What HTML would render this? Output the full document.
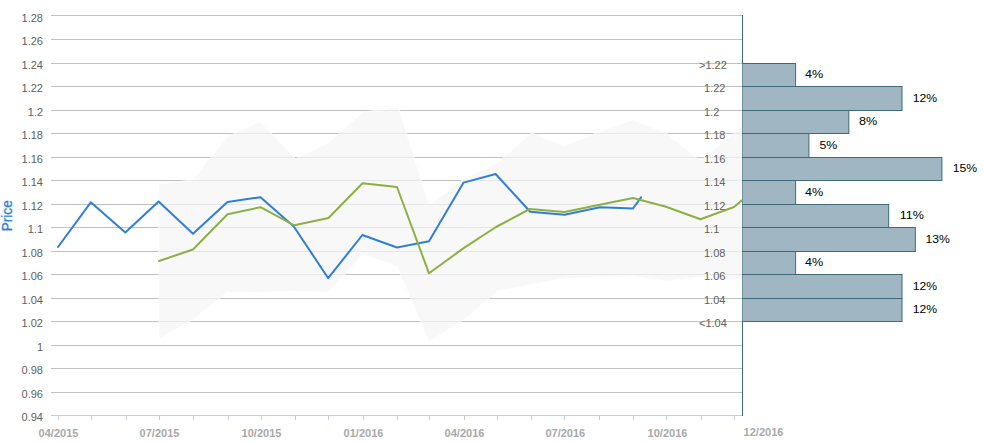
<!DOCTYPE html><html><head><meta charset="utf-8"><style>html,body{margin:0;padding:0;background:#fff;overflow:hidden}</style></head><body><svg width="985" height="443" viewBox="0 0 985 443" style="display:block;font-family:'Liberation Sans',sans-serif">
<rect width="985" height="443" fill="#fff"/>
<defs><clipPath id="pc"><rect x="51" y="0" width="691" height="443"/></clipPath></defs>
<rect x="51" y="15" width="691" height="1" fill="#c0c0c0"/>
<rect x="51" y="39" width="691" height="1" fill="#c0c0c0"/>
<rect x="51" y="63" width="691" height="1" fill="#c0c0c0"/>
<rect x="51" y="86" width="691" height="1" fill="#c0c0c0"/>
<rect x="51" y="110" width="691" height="1" fill="#c0c0c0"/>
<rect x="51" y="133" width="691" height="1" fill="#c0c0c0"/>
<rect x="51" y="157" width="691" height="1" fill="#c0c0c0"/>
<rect x="51" y="180" width="691" height="1" fill="#c0c0c0"/>
<rect x="51" y="204" width="691" height="1" fill="#c0c0c0"/>
<rect x="51" y="227" width="691" height="1" fill="#c0c0c0"/>
<rect x="51" y="251" width="691" height="1" fill="#c0c0c0"/>
<rect x="51" y="274" width="691" height="1" fill="#c0c0c0"/>
<rect x="51" y="298" width="691" height="1" fill="#c0c0c0"/>
<rect x="51" y="321" width="691" height="1" fill="#c0c0c0"/>
<rect x="51" y="345" width="691" height="1" fill="#c0c0c0"/>
<rect x="51" y="368" width="691" height="1" fill="#c0c0c0"/>
<rect x="51" y="392" width="691" height="1" fill="#c0c0c0"/>
<rect x="51" y="415" width="691" height="1" fill="#c0c0c0"/>
<g clip-path="url(#pc)"><polygon points="159,184 193,179.7 227.5,136.5 260.5,121.8 295.5,158.7 328.5,143 363,112 398.7,107.8 429,205.5 464,178.5 497,163.3 531.5,132.8 564.5,146 598.5,132 632.5,120 665.5,132.5 700.5,160.8 734,133.3 741.5,127.1 741.5,275.4 734.5,280.8 700.5,277 666,281.2 633,275.8 598.5,277 564.5,278.5 531,284.5 497.5,291 464,319.5 429,341.8 397,266 363,254.3 328.5,292.5 293.5,291 260,292.5 227.5,292 193,319.5 159,339" fill="#f5f5f5" fill-opacity="0.71" stroke="#fff" stroke-width="1" stroke-opacity="0.6"/>
<polyline points="58,247 90.8,202.3 125.3,232.5 158.6,201.5 193,233.7 227.5,202 260.5,197.2 293.8,226.5 328.2,278.2 362.4,235 397,247.5 429,241.2 463.6,182.6 495.6,174 530.2,211.8 564.5,214.7 600,207.3 633,208.5 641,197.3" fill="none" stroke="#2f7ed8" stroke-width="2" stroke-linejoin="round" stroke-linecap="round"/>
<polyline points="159,261 193,249.5 227.5,214.3 260.5,207.2 294.3,225.3 328.5,218 362.5,183.2 397,187 429,273.3 464,247.9 496,227 529.8,209 564.5,212 598.5,205 633,198 666,206.8 700.5,219.3 734,207 741.5,200.6" fill="none" stroke="#8cb045" stroke-width="2" stroke-linejoin="round" stroke-linecap="round"/></g>
<rect x="51" y="415" width="691" height="1" fill="#c0d0e0"/>
<rect x="58" y="416" width="1" height="4" fill="#c0d0e0"/>
<rect x="91" y="416" width="1" height="4" fill="#c0d0e0"/>
<rect x="126" y="416" width="1" height="4" fill="#c0d0e0"/>
<rect x="159" y="416" width="1" height="4" fill="#c0d0e0"/>
<rect x="193" y="416" width="1" height="4" fill="#c0d0e0"/>
<rect x="228" y="416" width="1" height="4" fill="#c0d0e0"/>
<rect x="261" y="416" width="1" height="4" fill="#c0d0e0"/>
<rect x="295" y="416" width="1" height="4" fill="#c0d0e0"/>
<rect x="328" y="416" width="1" height="4" fill="#c0d0e0"/>
<rect x="363" y="416" width="1" height="4" fill="#c0d0e0"/>
<rect x="397" y="416" width="1" height="4" fill="#c0d0e0"/>
<rect x="429" y="416" width="1" height="4" fill="#c0d0e0"/>
<rect x="464" y="416" width="1" height="4" fill="#c0d0e0"/>
<rect x="497" y="416" width="1" height="4" fill="#c0d0e0"/>
<rect x="531" y="416" width="1" height="4" fill="#c0d0e0"/>
<rect x="564" y="416" width="1" height="4" fill="#c0d0e0"/>
<rect x="599" y="416" width="1" height="4" fill="#c0d0e0"/>
<rect x="633" y="416" width="1" height="4" fill="#c0d0e0"/>
<rect x="666" y="416" width="1" height="4" fill="#c0d0e0"/>
<rect x="701" y="416" width="1" height="4" fill="#c0d0e0"/>
<rect x="734" y="416" width="1" height="4" fill="#c0d0e0"/>
<rect x="742" y="63" width="53.60000000000002" height="24" fill="#a0b6c2"/>
<rect x="742" y="63" width="53.60000000000002" height="1" fill="#3e6a7c"/>
<rect x="742" y="86" width="53.60000000000002" height="1" fill="#3e6a7c"/>
<rect x="795.10" y="63" width="1" height="24" fill="#3e6a7c"/>
<text x="805.0" y="78" font-size="11" textLength="18.2" lengthAdjust="spacingAndGlyphs" fill="#000">4%</text>
<rect x="742" y="86" width="160.0" height="25" fill="#a0b6c2"/>
<rect x="742" y="86" width="160.0" height="1" fill="#3e6a7c"/>
<rect x="742" y="110" width="160.0" height="1" fill="#3e6a7c"/>
<rect x="901.50" y="86" width="1" height="25" fill="#3e6a7c"/>
<text x="912.6999999999999" y="102" font-size="11" textLength="24.4" lengthAdjust="spacingAndGlyphs" fill="#000">12%</text>
<rect x="742" y="110" width="106.79999999999995" height="24" fill="#a0b6c2"/>
<rect x="742" y="110" width="106.79999999999995" height="1" fill="#3e6a7c"/>
<rect x="742" y="133" width="106.79999999999995" height="1" fill="#3e6a7c"/>
<rect x="848.30" y="110" width="1" height="24" fill="#3e6a7c"/>
<text x="859.0" y="125" font-size="11" textLength="18.2" lengthAdjust="spacingAndGlyphs" fill="#000">8%</text>
<rect x="742" y="133" width="66.89999999999998" height="25" fill="#a0b6c2"/>
<rect x="742" y="133" width="66.89999999999998" height="1" fill="#3e6a7c"/>
<rect x="742" y="157" width="66.89999999999998" height="1" fill="#3e6a7c"/>
<rect x="808.40" y="133" width="1" height="25" fill="#3e6a7c"/>
<text x="819.4" y="149" font-size="11" textLength="17.8" lengthAdjust="spacingAndGlyphs" fill="#000">5%</text>
<rect x="742" y="157" width="199.89999999999998" height="24" fill="#a0b6c2"/>
<rect x="742" y="157" width="199.89999999999998" height="1" fill="#3e6a7c"/>
<rect x="742" y="180" width="199.89999999999998" height="1" fill="#3e6a7c"/>
<rect x="941.40" y="157" width="1" height="24" fill="#3e6a7c"/>
<text x="952.6999999999999" y="172" font-size="11" textLength="24.4" lengthAdjust="spacingAndGlyphs" fill="#000">15%</text>
<rect x="742" y="180" width="53.60000000000002" height="25" fill="#a0b6c2"/>
<rect x="742" y="180" width="53.60000000000002" height="1" fill="#3e6a7c"/>
<rect x="742" y="204" width="53.60000000000002" height="1" fill="#3e6a7c"/>
<rect x="795.10" y="180" width="1" height="25" fill="#3e6a7c"/>
<text x="805.0" y="196" font-size="11" textLength="18.2" lengthAdjust="spacingAndGlyphs" fill="#000">4%</text>
<rect x="742" y="204" width="146.70000000000005" height="24" fill="#a0b6c2"/>
<rect x="742" y="204" width="146.70000000000005" height="1" fill="#3e6a7c"/>
<rect x="742" y="227" width="146.70000000000005" height="1" fill="#3e6a7c"/>
<rect x="888.20" y="204" width="1" height="24" fill="#3e6a7c"/>
<text x="899.6999999999999" y="219" font-size="11" textLength="24.2" lengthAdjust="spacingAndGlyphs" fill="#000">11%</text>
<rect x="742" y="227" width="173.29999999999995" height="25" fill="#a0b6c2"/>
<rect x="742" y="227" width="173.29999999999995" height="1" fill="#3e6a7c"/>
<rect x="742" y="251" width="173.29999999999995" height="1" fill="#3e6a7c"/>
<rect x="914.80" y="227" width="1" height="25" fill="#3e6a7c"/>
<text x="925.4" y="243" font-size="11" textLength="24.4" lengthAdjust="spacingAndGlyphs" fill="#000">13%</text>
<rect x="742" y="251" width="53.60000000000002" height="24" fill="#a0b6c2"/>
<rect x="742" y="251" width="53.60000000000002" height="1" fill="#3e6a7c"/>
<rect x="742" y="274" width="53.60000000000002" height="1" fill="#3e6a7c"/>
<rect x="795.10" y="251" width="1" height="24" fill="#3e6a7c"/>
<text x="805.0" y="266" font-size="11" textLength="18.2" lengthAdjust="spacingAndGlyphs" fill="#000">4%</text>
<rect x="742" y="274" width="160.0" height="25" fill="#a0b6c2"/>
<rect x="742" y="274" width="160.0" height="1" fill="#3e6a7c"/>
<rect x="742" y="298" width="160.0" height="1" fill="#3e6a7c"/>
<rect x="901.50" y="274" width="1" height="25" fill="#3e6a7c"/>
<text x="912.6999999999999" y="290" font-size="11" textLength="24.4" lengthAdjust="spacingAndGlyphs" fill="#000">12%</text>
<rect x="742" y="298" width="160.0" height="24" fill="#a0b6c2"/>
<rect x="742" y="298" width="160.0" height="1" fill="#3e6a7c"/>
<rect x="742" y="321" width="160.0" height="1" fill="#3e6a7c"/>
<rect x="901.50" y="298" width="1" height="24" fill="#3e6a7c"/>
<text x="912.6999999999999" y="313" font-size="11" textLength="24.4" lengthAdjust="spacingAndGlyphs" fill="#000">12%</text>
<rect x="742" y="15" width="1" height="401" fill="#3e6a7c"/>
<rect x="742" y="64" width="1" height="22" fill="#6a90a2"/>
<rect x="742" y="87" width="1" height="23" fill="#6a90a2"/>
<rect x="742" y="111" width="1" height="22" fill="#6a90a2"/>
<rect x="742" y="134" width="1" height="23" fill="#6a90a2"/>
<rect x="742" y="158" width="1" height="22" fill="#6a90a2"/>
<rect x="742" y="181" width="1" height="23" fill="#6a90a2"/>
<rect x="742" y="205" width="1" height="22" fill="#6a90a2"/>
<rect x="742" y="228" width="1" height="23" fill="#6a90a2"/>
<rect x="742" y="252" width="1" height="22" fill="#6a90a2"/>
<rect x="742" y="275" width="1" height="23" fill="#6a90a2"/>
<rect x="742" y="299" width="1" height="22" fill="#6a90a2"/>
<text x="43" y="22" font-size="11" fill="#606060" text-anchor="end">1.28</text>
<text x="43" y="45" font-size="11" fill="#606060" text-anchor="end">1.26</text>
<text x="43" y="69" font-size="11" fill="#606060" text-anchor="end">1.24</text>
<text x="43" y="92" font-size="11" fill="#606060" text-anchor="end">1.22</text>
<text x="43" y="116" font-size="11" fill="#606060" text-anchor="end">1.2</text>
<text x="43" y="139" font-size="11" fill="#606060" text-anchor="end">1.18</text>
<text x="43" y="163" font-size="11" fill="#606060" text-anchor="end">1.16</text>
<text x="43" y="186" font-size="11" fill="#606060" text-anchor="end">1.14</text>
<text x="43" y="210" font-size="11" fill="#606060" text-anchor="end">1.12</text>
<text x="43" y="233" font-size="11" fill="#606060" text-anchor="end">1.1</text>
<text x="43" y="257" font-size="11" fill="#606060" text-anchor="end">1.08</text>
<text x="43" y="280" font-size="11" fill="#606060" text-anchor="end">1.06</text>
<text x="43" y="304" font-size="11" fill="#606060" text-anchor="end">1.04</text>
<text x="43" y="327" font-size="11" fill="#606060" text-anchor="end">1.02</text>
<text x="43" y="351" font-size="11" fill="#606060" text-anchor="end">1</text>
<text x="43" y="374" font-size="11" fill="#606060" text-anchor="end">0.98</text>
<text x="43" y="398" font-size="11" fill="#606060" text-anchor="end">0.96</text>
<text x="43" y="421" font-size="11" fill="#606060" text-anchor="end">0.94</text>
<text x="699" y="69" font-size="11" fill="#606060">&gt;1.22</text>
<text x="704" y="92" font-size="11" fill="#606060">1.22</text>
<text x="704" y="116" font-size="11" fill="#606060">1.2</text>
<text x="704" y="139" font-size="11" fill="#606060">1.18</text>
<text x="704" y="163" font-size="11" fill="#606060">1.16</text>
<text x="704" y="186" font-size="11" fill="#606060">1.14</text>
<text x="704" y="210" font-size="11" fill="#606060">1.12</text>
<text x="704" y="233" font-size="11" fill="#606060">1.1</text>
<text x="704" y="257" font-size="11" fill="#606060">1.08</text>
<text x="704" y="280" font-size="11" fill="#606060">1.06</text>
<text x="704" y="304" font-size="11" fill="#606060">1.04</text>
<text x="699" y="327" font-size="11" fill="#606060">&lt;1.04</text>
<text x="58.5" y="437" font-size="11" font-weight="bold" fill="#a8a8a8" text-anchor="middle">04/2015</text>
<text x="159.5" y="437" font-size="11" font-weight="bold" fill="#a8a8a8" text-anchor="middle">07/2015</text>
<text x="261.5" y="437" font-size="11" font-weight="bold" fill="#a8a8a8" text-anchor="middle">10/2015</text>
<text x="363.5" y="437" font-size="11" font-weight="bold" fill="#a8a8a8" text-anchor="middle">01/2016</text>
<text x="464.5" y="437" font-size="11" font-weight="bold" fill="#a8a8a8" text-anchor="middle">04/2016</text>
<text x="565.3" y="437" font-size="11" font-weight="bold" fill="#a8a8a8" text-anchor="middle">07/2016</text>
<text x="667.5" y="437" font-size="11" font-weight="bold" fill="#a8a8a8" text-anchor="middle">10/2016</text>
<text x="763.5" y="436" font-size="11" font-weight="bold" fill="#a8a8a8" text-anchor="middle">12/2016</text>
<text transform="translate(12,215.8) rotate(-90)" font-size="14" fill="#2f7ed8" text-anchor="middle" textLength="31" lengthAdjust="spacingAndGlyphs" stroke="#2f7ed8" stroke-width="0.3">Price</text>
</svg></body></html>
